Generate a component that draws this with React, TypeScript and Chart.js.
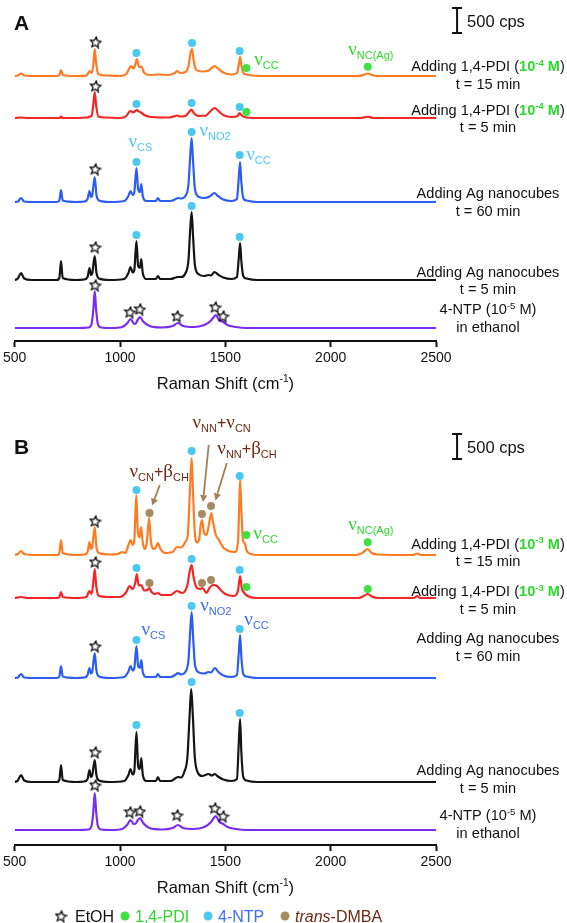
import React, { useEffect, useRef } from 'react';
import { Chart, registerables } from 'chart.js';

Chart.register(...registerables);

const SANS = '"Liberation Sans", Arial, Helvetica, sans-serif';
const SERIF = '"Liberation Serif", "Times New Roman", serif';

// ---------------- data (Raman shift in cm-1, intensity in cps above each trace's baseline) ----------------
type Pt = [number, number];
type Mark = [string, number, number]; // [trace id, shift, cps above baseline]

const shiftMin = 500;
const shiftMax = 2500;
const shiftStep = 500;
const scaleBarCps = 500;

// Panel A
const pdi15A: Pt[] = [[500,0],[515,10],[530,50],[545,10],[600,0],[700,0],[712,20],[720,120],[728,20],[790,0],[840,10],[850,60],[857,100],[866,60],[874,260],[880,540],[887,240],[897,40],[930,10],[1000,0],[1030,40],[1045,160],[1052,200],[1062,150],[1072,220],[1080,340],[1088,200],[1095,180],[1102,190],[1112,80],[1140,20],[1180,30],[1230,20],[1260,60],[1272,100],[1285,60],[1310,80],[1325,200],[1335,460],[1342,540],[1350,300],[1362,120],[1390,90],[1420,110],[1438,170],[1450,200],[1465,150],[1490,70],[1530,30],[1555,60],[1565,260],[1570,380],[1576,220],[1585,60],[1600,30],[1630,10],[1700,0],[2130,0],[2155,20],[2176,50],[2195,20],[2220,0],[2500,0]];
const pdi5A: Pt[] = [[500,0],[530,10],[560,0],[712,0],[720,30],[728,0],[845,10],[855,30],[865,40],[873,260],[880,520],[887,240],[897,30],[930,10],[1000,0],[1030,40],[1045,130],[1052,140],[1062,110],[1072,140],[1080,160],[1090,130],[1100,110],[1115,60],[1150,20],[1230,10],[1262,40],[1272,50],[1285,30],[1310,40],[1328,120],[1340,170],[1350,100],[1365,50],[1380,40],[1392,50],[1405,40],[1430,140],[1450,200],[1465,150],[1490,60],[1530,20],[1558,40],[1568,100],[1576,60],[1590,20],[1650,0],[2140,0],[2176,25],[2205,0],[2500,0]];
const ag60A: Pt[] = [[500,0],[515,10],[530,80],[545,10],[600,0],[700,0],[712,30],[720,240],[728,30],[790,0],[830,10],[846,60],[855,220],[862,100],[868,130],[880,500],[888,150],[900,30],[950,0],[1020,20],[1040,120],[1050,220],[1060,140],[1068,200],[1078,680],[1086,250],[1094,200],[1101,360],[1108,120],[1125,20],[1170,20],[1180,80],[1190,20],[1240,20],[1265,60],[1275,80],[1290,70],[1310,120],[1325,350],[1333,900],[1340,1280],[1347,800],[1356,250],[1375,100],[1400,80],[1425,110],[1448,180],[1465,120],[1490,50],[1530,20],[1555,60],[1564,500],[1570,800],[1576,400],[1585,80],[1600,30],[1650,0],[2500,0]];
const ag5A: Pt[] = [[500,0],[515,30],[530,140],[545,30],[580,0],[700,0],[712,40],[720,380],[728,40],[790,0],[830,10],[846,60],[855,240],[862,100],[868,130],[880,480],[888,150],[900,30],[950,0],[1020,20],[1040,140],[1050,260],[1060,150],[1068,200],[1078,780],[1086,280],[1094,240],[1101,420],[1108,140],[1125,20],[1170,20],[1180,80],[1190,20],[1240,20],[1265,50],[1275,60],[1290,60],[1310,130],[1325,400],[1333,1000],[1340,1360],[1347,850],[1356,280],[1375,110],[1400,80],[1420,100],[1432,90],[1448,160],[1465,110],[1490,50],[1530,20],[1555,60],[1564,450],[1570,740],[1576,380],[1585,80],[1600,30],[1650,0],[2500,0]];
const ntpA: Pt[] = [[500,0],[800,0],[850,10],[865,80],[873,350],[880,740],[887,350],[895,80],[910,10],[960,0],[1010,20],[1035,100],[1050,180],[1065,90],[1072,80],[1085,170],[1095,220],[1110,130],[1140,40],[1200,10],[1250,40],[1275,100],[1300,40],[1350,20],[1400,60],[1430,140],[1445,220],[1455,260],[1470,160],[1490,120],[1510,60],[1550,20],[1600,0],[2500,0]];

// Panel B
const pdi15B: Pt[] = [[500,0],[515,20],[530,80],[545,20],[600,0],[700,0],[712,40],[720,300],[728,40],[790,0],[830,10],[846,60],[855,260],[862,120],[868,150],[880,560],[888,160],[900,40],[950,10],[990,20],[1010,60],[1025,40],[1040,200],[1050,300],[1060,200],[1068,300],[1077,1200],[1085,450],[1093,350],[1100,560],[1108,250],[1118,120],[1127,250],[1138,740],[1146,300],[1158,120],[1170,150],[1180,240],[1192,120],[1215,40],[1250,60],[1270,160],[1290,150],[1310,260],[1322,420],[1332,1300],[1340,1940],[1347,1200],[1355,450],[1365,250],[1375,300],[1383,600],[1390,700],[1398,450],[1410,400],[1422,600],[1433,840],[1442,650],[1455,400],[1470,300],[1490,150],[1515,80],[1545,60],[1560,250],[1566,1000],[1570,1500],[1576,900],[1584,280],[1592,240],[1600,100],[1620,20],[1660,0],[2120,0],[2150,40],[2176,120],[2195,40],[2225,10],[2390,0],[2410,30],[2430,0],[2500,0]];
const pdi5B: Pt[] = [[500,0],[530,20],[560,0],[700,0],[712,20],[720,120],[728,20],[790,0],[840,20],[855,140],[865,80],[873,300],[880,580],[887,250],[897,50],[940,20],[1000,20],[1030,120],[1045,240],[1060,180],[1072,300],[1080,480],[1088,250],[1100,260],[1115,150],[1130,160],[1140,200],[1150,120],[1165,80],[1180,100],[1195,60],[1240,60],[1270,140],[1295,100],[1320,260],[1332,560],[1340,660],[1350,400],[1365,200],[1380,180],[1392,200],[1410,100],[1425,200],[1440,260],[1460,240],[1480,150],[1500,80],[1540,40],[1560,150],[1570,440],[1578,200],[1590,100],[1610,30],[1650,0],[2130,0],[2152,30],[2176,80],[2195,30],[2225,0],[2395,0],[2410,40],[2425,0],[2500,0]];
const ag60B: Pt[] = [[500,0],[515,10],[530,80],[545,10],[600,0],[700,0],[712,30],[720,240],[728,30],[790,0],[830,10],[846,60],[855,200],[862,90],[868,120],[880,500],[888,150],[900,30],[950,0],[1020,20],[1040,130],[1050,240],[1060,150],[1068,200],[1078,640],[1086,240],[1094,200],[1101,360],[1108,120],[1125,20],[1170,20],[1180,80],[1190,20],[1240,20],[1265,70],[1275,100],[1290,70],[1310,120],[1325,360],[1333,920],[1340,1320],[1347,820],[1356,260],[1375,110],[1400,90],[1420,120],[1432,110],[1450,200],[1465,130],[1490,50],[1530,20],[1555,60],[1564,520],[1570,860],[1576,420],[1585,80],[1600,30],[1650,0],[2500,0]];
const ag5B: Pt[] = [[500,0],[515,30],[530,140],[545,30],[580,0],[700,0],[712,40],[720,340],[728,40],[790,0],[830,10],[846,60],[855,240],[862,100],[868,130],[880,440],[888,140],[900,30],[950,0],[1020,20],[1040,140],[1050,260],[1060,150],[1068,220],[1078,1000],[1086,320],[1094,260],[1101,480],[1108,150],[1125,20],[1170,20],[1180,100],[1190,20],[1240,20],[1265,80],[1275,100],[1290,90],[1305,200],[1320,500],[1330,1300],[1338,1860],[1346,1300],[1355,500],[1368,200],[1390,120],[1420,160],[1435,130],[1450,160],[1465,110],[1490,50],[1530,20],[1555,60],[1564,800],[1570,1260],[1576,600],[1585,100],[1600,30],[1650,0],[2500,0]];
const ntpB: Pt[] = [[500,0],[800,0],[850,10],[865,80],[873,350],[880,740],[887,350],[895,80],[910,10],[960,0],[1010,20],[1035,110],[1050,200],[1065,120],[1072,120],[1085,200],[1095,240],[1110,140],[1140,40],[1200,10],[1250,40],[1275,100],[1300,40],[1350,20],[1400,60],[1430,150],[1445,240],[1455,280],[1470,170],[1490,120],[1510,60],[1550,20],[1600,0],[2500,0]];

// vertical stacking offsets (cps) of each trace
const offsetsA: Record<string, number> = { pdi15: 5300, pdi5: 4460, ag60: 2780, ag5: 1220, ntp: 260 };
const offsetsB: Record<string, number> = { pdi15: 5800, pdi5: 4940, ag60: 3340, ag5: 1260, ntp: 300 };

// band markers
const etohStarsA: Mark[] = [['pdi15',884,680],['pdi5',884,640],['ag60',882,660],['ag5',882,660],['ntp',882,860],['ntp',1047,320],['ntp',1094,380],['ntp',1271,240],['ntp',1452,420],['ntp',1489,240]];
const ntpDotsA: Mark[] = [['pdi15',1078,460],['pdi15',1342,660],['pdi15',1568,500],['pdi5',1078,280],['pdi5',1340,300],['pdi5',1568,220],['ag60',1078,800],['ag60',1340,1400],['ag60',1568,940],['ag5',1078,900],['ag5',1340,1480],['ag5',1568,860]];
const pdiDotsA: Mark[] = [['pdi15',1600,160],['pdi15',2176,186],['pdi5',1600,120]];

const etohStarsB: Mark[] = [['pdi15',882,680],['pdi5',882,720],['ag60',882,640],['ag5',882,600],['ntp',882,900],['ntp',1047,360],['ntp',1094,380],['ntp',1271,300],['ntp',1450,440],['ntp',1489,280]];
const ntpDotsB: Mark[] = [['pdi15',1078,1300],['pdi15',1340,2080],['pdi15',1568,1580],['pdi5',1078,600],['pdi5',1340,780],['pdi5',1568,560],['ag60',1078,760],['ag60',1340,1440],['ag60',1568,980],['ag5',1078,1140],['ag5',1340,2000],['ag5',1568,1380]];
const pdiDotsB: Mark[] = [['pdi15',1600,400],['pdi15',2176,254],['pdi5',1600,220],['pdi5',2176,180]];
const dmbaDotsB: Mark[] = [['pdi15',1140,840],['pdi15',1389,820],['pdi15',1432,980],['pdi5',1140,300],['pdi5',1389,300],['pdi5',1432,360]];

const legendLabels = ['EtOH', '1,4-PDI', '4-NTP', 'trans-DMBA'];

// ---------------- styles ----------------
const TRACE_COLORS: Record<string, string> = { pdi15: '#ff7b22', pdi5: '#f42626', ag60: '#2c5cf2', ag5: '#141414', ntp: '#7a2cf0' };
const NTP_DOT = '#4cc8f0';
const PDI_DOT = '#3fe03f';
const DMBA_DOT = '#a88a60';
const GREEN_TEXT = '#2fd82f';
const BLUE_TEXT = '#3d6ef2';
const BROWN_TEXT = '#6c2a12';
const ARROW = '#9e8057';

type Seg = { t: string; size: number; color: string; bold?: boolean; italic?: boolean; serif?: boolean; dy?: number };

const fontOf = (s: Seg) => `${s.italic ? 'italic ' : ''}${s.bold ? 'bold ' : ''}${s.size}px ${s.serif ? SERIF : SANS}`;

function drawSegs(ctx: CanvasRenderingContext2D, segs: Seg[], x: number, y: number, align: 'left' | 'center' = 'left') {
  ctx.save();
  ctx.textBaseline = 'alphabetic';
  ctx.textAlign = 'left';
  let w = 0;
  for (const s of segs) { ctx.font = fontOf(s); w += ctx.measureText(s.t).width; }
  let cx = align === 'center' ? x - w / 2 : x;
  for (const s of segs) {
    ctx.font = fontOf(s);
    ctx.fillStyle = s.color;
    ctx.fillText(s.t, cx, y + (s.dy || 0));
    cx += ctx.measureText(s.t).width;
  }
  ctx.restore();
}

function modeSegs(parts: [string, string][], color: string): Seg[] {
  const out: Seg[] = [];
  parts.forEach(([sym, sub], i) => {
    if (i > 0) out.push({ t: '+', size: 16, color });
    out.push({ t: sym, size: 19, color, serif: true });
    out.push({ t: sub, size: 11, color, dy: 4 });
  });
  return out;
}

type Annot = { x: number; y: number; color: string; parts: [string, string][] };
type SideLabel = { y: number; head: string; conc: string; green: boolean; tail: string };

const annotA: Annot[] = [
  { x: 1637, y: 5520, color: GREEN_TEXT, parts: [['ν', 'CC']] },
  { x: 2083, y: 5720, color: GREEN_TEXT, parts: [['ν', 'NC(Ag)']] },
  { x: 1040, y: 3880, color: NTP_DOT, parts: [['ν', 'CS']] },
  { x: 1377, y: 4100, color: NTP_DOT, parts: [['ν', 'NO2']] },
  { x: 1599, y: 3620, color: NTP_DOT, parts: [['ν', 'CC']] },
];
const annotB: Annot[] = [
  { x: 1045, y: 7360, color: BROWN_TEXT, parts: [['ν', 'CN'], ['β', 'CH']] },
  { x: 1344, y: 8340, color: BROWN_TEXT, parts: [['ν', 'NN'], ['ν', 'CN']] },
  { x: 1462, y: 7820, color: BROWN_TEXT, parts: [['ν', 'NN'], ['β', 'CH']] },
  { x: 1633, y: 6120, color: GREEN_TEXT, parts: [['ν', 'CC']] },
  { x: 2083, y: 6300, color: GREEN_TEXT, parts: [['ν', 'NC(Ag)']] },
  { x: 1102, y: 4200, color: BLUE_TEXT, parts: [['ν', 'CS']] },
  { x: 1381, y: 4680, color: BLUE_TEXT, parts: [['ν', 'NO2']] },
  { x: 1590, y: 4400, color: BLUE_TEXT, parts: [['ν', 'CC']] },
];
const arrowsB: [number, number, number, number][] = [[1189, 7200, 1152, 6790], [1421, 8000, 1394, 6860], [1507, 7640, 1453, 6890]];

const sideA: SideLabel[] = [
  { y: 5500, head: 'Adding 1,4-PDI', conc: '-4', green: true, tail: 't = 15 min' },
  { y: 4630, head: 'Adding 1,4-PDI', conc: '-4', green: true, tail: 't = 5 min' },
  { y: 2960, head: 'Adding Ag nanocubes', conc: '', green: false, tail: 't = 60 min' },
  { y: 1390, head: 'Adding Ag nanocubes', conc: '', green: false, tail: 't = 5 min' },
  { y: 640, head: '4-NTP', conc: '-5', green: false, tail: 'in ethanol' },
];
const sideB: SideLabel[] = [
  { y: 6030, head: 'Adding 1,4-PDI', conc: '-3', green: true, tail: 't = 15 min' },
  { y: 5080, head: 'Adding 1,4-PDI', conc: '-3', green: true, tail: 't = 5 min' },
  { y: 4140, head: 'Adding Ag nanocubes', conc: '', green: false, tail: 't = 60 min' },
  { y: 1500, head: 'Adding Ag nanocubes', conc: '', green: false, tail: 't = 5 min' },
  { y: 600, head: '4-NTP', conc: '-5', green: false, tail: 'in ethanol' },
];

function makeStar(): HTMLCanvasElement {
  const size = 13;
  const c = document.createElement('canvas');
  c.width = size; c.height = size;
  const g = c.getContext('2d')!;
  g.beginPath();
  for (let i = 0; i < 10; i++) {
    const r = i % 2 ? 2.6 : 5.6;
    const a = -Math.PI / 2 + 0.12 + (i * Math.PI) / 5;
    const px = size / 2 + r * Math.cos(a);
    const py = size / 2 + 0.6 + r * Math.sin(a);
    if (i === 0) g.moveTo(px, py); else g.lineTo(px, py);
  }
  g.closePath();
  g.fillStyle = '#fff';
  g.fill();
  g.lineWidth = 1.2;
  g.strokeStyle = '#000';
  g.stroke();
  return c;
}

type Panel = {
  traces: [string, Pt[]][];
  offsets: Record<string, number>;
  stars: Mark[]; ntpDots: Mark[]; pdiDots: Mark[]; dmbaDots: Mark[];
  annots: Annot[]; arrows: [number, number, number, number][]; side: SideLabel[];
  letter: string; yMax: number; padTop: number; axisH: number; bar: number; legend: boolean;
};

const panelA: Panel = {
  traces: [['pdi15', pdi15A], ['pdi5', pdi5A], ['ag60', ag60A], ['ag5', ag5A], ['ntp', ntpA]],
  offsets: offsetsA, stars: etohStarsA, ntpDots: ntpDotsA, pdiDots: pdiDotsA, dmbaDots: [],
  annots: annotA, arrows: [], side: sideA, letter: 'A', yMax: 6720, padTop: 5, axisH: 54, bar: 6160, legend: false,
};
const panelB: Panel = {
  traces: [['pdi15', pdi15B], ['pdi5', pdi5B], ['ag60', ag60B], ['ag5', ag5B], ['ntp', ntpB]],
  offsets: offsetsB, stars: etohStarsB, ntpDots: ntpDotsB, pdiDots: pdiDotsB, dmbaDots: dmbaDotsB,
  annots: annotB, arrows: arrowsB, side: sideB, letter: 'B', yMax: 8880, padTop: 6, axisH: 78, bar: 7720, legend: true,
};

function buildConfig(p: Panel, star: HTMLCanvasElement): any {
  const markSet = (marks: Mark[], style: any, color: string) => ({
    data: marks.map(([id, x, h]) => ({ x, y: p.offsets[id] + h })),
    showLine: false,
    pointStyle: style,
    pointRadius: 4,
    pointHoverRadius: 4,
    pointBackgroundColor: color,
    pointBorderWidth: 0,
    order: 0,
  });
  const datasets: any[] = p.traces.map(([id, pts]) => ({
    data: pts.map(([x, y]) => ({ x, y: y + p.offsets[id] })),
    showLine: true,
    borderColor: TRACE_COLORS[id],
    borderWidth: 2.2,
    pointRadius: 0,
    cubicInterpolationMode: 'monotone',
    order: 1,
  }));
  datasets.push(markSet(p.stars, star, '#fff'));
  datasets.push(markSet(p.ntpDots, 'circle', NTP_DOT));
  datasets.push(markSet(p.pdiDots, 'circle', PDI_DOT));
  if (p.dmbaDots.length) datasets.push(markSet(p.dmbaDots, 'circle', DMBA_DOT));

  const overlay = {
    id: 'overlay' + p.letter,
    afterDraw(chart: any) {
      const ctx: CanvasRenderingContext2D = chart.ctx;
      const xs = chart.scales.x;
      const ys = chart.scales.y;
      const ca = chart.chartArea;
      // annotations
      for (const a of p.annots) drawSegs(ctx, modeSegs(a.parts, a.color), xs.getPixelForValue(a.x), ys.getPixelForValue(a.y));
      // arrows
      ctx.save();
      ctx.strokeStyle = ARROW; ctx.fillStyle = ARROW; ctx.lineWidth = 1.8;
      for (const [x1, y1, x2, y2] of p.arrows) {
        const ax = xs.getPixelForValue(x1), ay = ys.getPixelForValue(y1);
        const bx = xs.getPixelForValue(x2), by = ys.getPixelForValue(y2);
        const ang = Math.atan2(by - ay, bx - ax);
        const hl = 7, hw = 3.6;
        const sx = bx - hl * Math.cos(ang), sy = by - hl * Math.sin(ang);
        ctx.beginPath(); ctx.moveTo(ax, ay); ctx.lineTo(sx, sy); ctx.stroke();
        ctx.beginPath();
        ctx.moveTo(bx, by);
        ctx.lineTo(sx + hw * Math.sin(ang), sy - hw * Math.cos(ang));
        ctx.lineTo(sx - hw * Math.sin(ang), sy + hw * Math.cos(ang));
        ctx.closePath(); ctx.fill();
      }
      ctx.restore();
      // side labels
      const LS = 14.6;
      const lx = ca.right + 52;
      for (const s of p.side) {
        const base = ys.getPixelForValue(s.y) + 5.3;
        const cc = s.green ? GREEN_TEXT : '#111';
        const segs: Seg[] = s.conc
          ? [
              { t: s.head + ' (', size: LS, color: '#111' },
              { t: '10', size: LS, color: cc, bold: s.green },
              { t: s.conc, size: 9.5, color: cc, bold: s.green, dy: -5.5 },
              { t: ' M', size: LS, color: cc, bold: s.green },
              { t: ')', size: LS, color: '#111' },
            ]
          : [{ t: s.head, size: LS, color: '#111' }];
        drawSegs(ctx, segs, lx, base, 'center');
        drawSegs(ctx, [{ t: s.tail, size: LS, color: '#111' }], lx, base + 17.5, 'center');
      }
      // scale bar
      const bxp = xs.getPixelForValue(2600);
      const b0 = ys.getPixelForValue(p.bar), b1 = ys.getPixelForValue(p.bar + scaleBarCps);
      ctx.save();
      ctx.strokeStyle = '#111'; ctx.lineWidth = 2;
      ctx.beginPath();
      ctx.moveTo(bxp, b0); ctx.lineTo(bxp, b1);
      ctx.moveTo(bxp - 5, b0); ctx.lineTo(bxp + 5, b0);
      ctx.moveTo(bxp - 5, b1); ctx.lineTo(bxp + 5, b1);
      ctx.stroke();
      ctx.restore();
      drawSegs(ctx, [{ t: scaleBarCps + ' cps', size: 16.5, color: '#111' }], bxp + 10, (b0 + b1) / 2 + 6);
      // panel letter
      drawSegs(ctx, [{ t: p.letter, size: 21, color: '#111', bold: true }], 14, p.letter === 'A' ? 30 : 59);
      // axis title
      drawSegs(ctx, [
        { t: 'Raman Shift (cm', size: 16.5, color: '#111' },
        { t: '-1', size: 10, color: '#111', dy: -6.5 },
        { t: ')', size: 16.5, color: '#111' },
      ], (ca.left + ca.right) / 2, ca.bottom + 41.5 + 6, 'center');
      // legend
      if (p.legend) {
        const ly = chart.height - 7;
        ctx.drawImage(star, 61 - star.width / 2, ly - star.height / 2);
        const dot = (x: number, c: string) => { ctx.beginPath(); ctx.fillStyle = c; ctx.arc(x, ly, 4.5, 0, Math.PI * 2); ctx.fill(); };
        dot(125, PDI_DOT); dot(208, NTP_DOT); dot(285, DMBA_DOT);
        const tb = ly + 5.7;
        drawSegs(ctx, [{ t: legendLabels[0], size: 16, color: '#111' }], 75, tb);
        drawSegs(ctx, [{ t: legendLabels[1], size: 16, color: GREEN_TEXT }], 135, tb);
        drawSegs(ctx, [{ t: legendLabels[2], size: 16, color: BLUE_TEXT }], 218, tb);
        const [it, rest] = legendLabels[3].split('-');
        drawSegs(ctx, [{ t: it, size: 16, color: BROWN_TEXT, italic: true }, { t: '-' + rest, size: 16, color: BROWN_TEXT }], 295, tb);
      }
    },
  };

  return {
    type: 'scatter',
    data: { datasets },
    options: {
      responsive: false,
      animation: false,
      devicePixelRatio: 1,
      events: [],
      layout: { padding: { top: p.padTop, left: 14, right: 131, bottom: 0 } },
      plugins: { legend: { display: false }, tooltip: { enabled: false } },
      scales: {
        x: {
          type: 'linear',
          min: shiftMin,
          max: shiftMax,
          ticks: { stepSize: shiftStep, color: '#111', font: { size: 14, family: SANS }, padding: 3, maxRotation: 0, callback: (v: number) => String(v) },
          grid: { drawOnChartArea: false, drawTicks: true, tickLength: 6, tickWidth: 2, tickColor: '#111' },
          border: { display: true, color: '#111', width: 2 },
          afterFit: (s: any) => { s.height = p.axisH; },
        },
        y: { display: false, min: 0, max: p.yMax },
      },
    },
    plugins: [overlay],
  };
}

export default function App() {
  const refA = useRef<HTMLCanvasElement>(null);
  const refB = useRef<HTMLCanvasElement>(null);
  useEffect(() => {
    Chart.defaults.font.family = SANS;
    const star = makeStar();
    const cA = new Chart(refA.current!, buildConfig(panelA, star));
    const cB = new Chart(refB.current!, buildConfig(panelB, star));
    return () => { cA.destroy(); cB.destroy(); };
  }, []);
  return (
    <div style={{ position: 'absolute', left: 0, top: 0, width: 567, height: 923, overflow: 'hidden', background: '#fff' }}>
      <canvas ref={refA} width={567} height={395} style={{ position: 'absolute', left: 0, top: 0 }} />
      <canvas ref={refB} width={567} height={528} style={{ position: 'absolute', left: 0, top: 395 }} />
    </div>
  );
}
